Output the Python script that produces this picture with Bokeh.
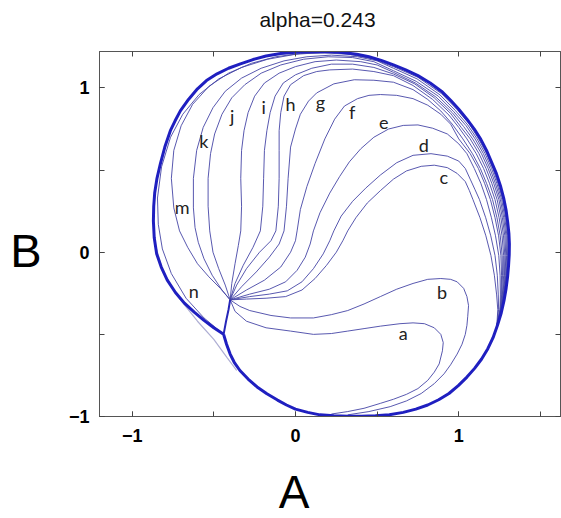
from bokeh.plotting import figure
from bokeh.models import Range1d, FixedTicker, LinearAxis, Label, CustomJSTickFormatter
from bokeh.core.properties import value
from bokeh.embed import file_html
from bokeh.resources import INLINE

# ---- text and ticks ----
title_text = "alpha=0.243"
title_x = 0.135
x_label = "A"
x_label_pos = (-0.008, -1.462)
y_label = "B"
y_label_y = 0.01
x_major = [-1, 0, 1]
x_minor = [-1, -0.5, 0, 0.5, 1, 1.5]
y_major = [-1, 0, 1]
y_minor = [-1, -0.5, 0, 0.5, 1]

# ---- limit cycle (closed orbit) and the branch from the saddle-node ----
limit_cycle = [(-0.44, -0.50), (-0.50, -0.46), (-0.56, -0.415), (-0.62, -0.365), (-0.68, -0.31),
               (-0.735, -0.245), (-0.785, -0.17), (-0.822, -0.09), (-0.85, -0.01), (-0.865, 0.09),
               (-0.87, 0.19), (-0.868, 0.28), (-0.862, 0.36), (-0.848, 0.45), (-0.827, 0.54),
               (-0.80, 0.64), (-0.766, 0.74), (-0.737, 0.80), (-0.704, 0.862), (-0.655, 0.93),
               (-0.60, 0.995), (-0.545, 1.045), (-0.48, 1.086), (-0.41, 1.12), (-0.337, 1.147),
               (-0.26, 1.173), (-0.18, 1.195), (-0.09, 1.21), (0.0, 1.218), (0.075, 1.221),
               (0.15, 1.222), (0.225, 1.22), (0.30, 1.215), (0.375, 1.205), (0.45, 1.19),
               (0.525, 1.168), (0.60, 1.14), (0.675, 1.11), (0.75, 1.075), (0.825, 1.03),
               (0.90, 0.975), (0.95, 0.925), (1.0, 0.87), (1.05, 0.81), (1.095, 0.75),
               (1.135, 0.687), (1.17, 0.62), (1.20, 0.55), (1.23, 0.48), (1.255, 0.405),
               (1.275, 0.33), (1.29, 0.255), (1.30, 0.18), (1.307, 0.115), (1.31, 0.05),
               (1.309, -0.015), (1.305, -0.08), (1.299, -0.15), (1.29, -0.22), (1.277, -0.295),
               (1.26, -0.37), (1.237, -0.445), (1.21, -0.52), (1.178, -0.587), (1.14, -0.65),
               (1.097, -0.707), (1.05, -0.76), (0.997, -0.812), (0.94, -0.86), (0.877, -0.898),
               (0.81, -0.93), (0.737, -0.955), (0.66, -0.975), (0.575, -0.989), (0.49, -0.995),
               (0.405, -0.998), (0.32, -0.998), (0.235, -0.995), (0.15, -0.99), (0.075, -0.975),
               (0.0, -0.955), (-0.055, -0.93), (-0.11, -0.90), (-0.175, -0.862), (-0.235, -0.82),
               (-0.29, -0.772), (-0.34, -0.72), (-0.375, -0.67), (-0.40, -0.62), (-0.422, -0.56),
               (-0.44, -0.50)]
saddle_branch = [(-0.40, -0.29), (-0.41, -0.35), (-0.425, -0.42), (-0.44, -0.50)]
inner_edge = [(-0.44, -0.50), (-0.56, -0.40), (-0.67, -0.28), (-0.76, -0.13), (-0.815, 0.02),
              (-0.84, 0.17), (-0.845, 0.33), (-0.82, 0.52), (-0.765, 0.70), (-0.69, 0.84),
              (-0.59, 0.96), (-0.47, 1.055), (-0.33, 1.125), (-0.17, 1.175), (0.0, 1.205),
              (0.15, 1.215)]
outer_edge = [(-0.86, 0.05), (-0.81, -0.12), (-0.72, -0.27), (-0.60, -0.42), (-0.50, -0.53),
              (-0.42, -0.64), (-0.36, -0.72)]

# ---- trajectories leaving the saddle-node ----
curve_a = [(-0.40, -0.29), (-0.37, -0.36), (-0.30, -0.42), (-0.18, -0.46), (-0.03, -0.48),
           (0.11, -0.50), (0.22, -0.495), (0.32, -0.48), (0.42, -0.465), (0.52, -0.45),
           (0.64, -0.435), (0.72, -0.43), (0.79, -0.435), (0.85, -0.46), (0.89, -0.50),
           (0.905, -0.55), (0.90, -0.60), (0.88, -0.68), (0.85, -0.73), (0.81, -0.78),
           (0.75, -0.83), (0.68, -0.865), (0.60, -0.895), (0.52, -0.92), (0.42, -0.95),
           (0.32, -0.97), (0.22, -0.985)]
curve_b = [(-0.40, -0.29), (-0.34, -0.33), (-0.28, -0.355), (-0.15, -0.385), (-0.03, -0.40),
           (0.11, -0.40), (0.22, -0.38), (0.32, -0.355), (0.42, -0.315), (0.52, -0.27),
           (0.62, -0.225), (0.72, -0.19), (0.81, -0.165), (0.89, -0.16), (0.95, -0.165),
           (0.99, -0.18), (1.03, -0.22), (1.05, -0.27), (1.06, -0.325), (1.055, -0.39),
           (1.05, -0.445), (1.04, -0.50), (1.02, -0.56), (0.99, -0.62), (0.95, -0.685),
           (0.91, -0.74), (0.85, -0.80), (0.77, -0.86), (0.68, -0.905), (0.58, -0.94),
           (0.45, -0.97), (0.32, -0.99)]
curve_c = [(-0.40, -0.29), (-0.30, -0.285), (-0.18, -0.28), (-0.06, -0.27), (0.04, -0.23),
           (0.12, -0.16), (0.19, -0.08), (0.25, 0.0), (0.29, 0.07), (0.32, 0.13), (0.37, 0.21),
           (0.44, 0.30), (0.52, 0.375), (0.60, 0.445), (0.68, 0.495), (0.77, 0.523),
           (0.85, 0.53), (0.93, 0.515), (0.99, 0.48), (1.04, 0.43), (1.065, 0.375),
           (1.087, 0.32), (1.13, 0.21), (1.166, 0.10), (1.197, -0.02), (1.218, -0.14),
           (1.232, -0.26), (1.239, -0.35), (1.233, -0.45)]
curve_d = [(-0.40, -0.29), (-0.28, -0.27), (-0.16, -0.255), (-0.05, -0.235), (0.04, -0.18),
           (0.11, -0.10), (0.17, -0.01), (0.21, 0.07), (0.235, 0.13), (0.28, 0.22), (0.35, 0.31),
           (0.43, 0.39), (0.52, 0.47), (0.62, 0.545), (0.72, 0.59), (0.83, 0.60), (0.93, 0.585),
           (1.0, 0.555), (1.04, 0.51), (1.07, 0.445), (1.10, 0.38), (1.127, 0.32), (1.165, 0.21),
           (1.196, 0.10), (1.222, -0.02), (1.236, -0.14), (1.242, -0.26), (1.244, -0.35),
           (1.233, -0.45)]
curve_e = [(-0.40, -0.29), (-0.28, -0.255), (-0.16, -0.225), (-0.06, -0.18), (0.01, -0.11),
           (0.06, -0.03), (0.09, 0.05), (0.11, 0.13), (0.15, 0.24), (0.21, 0.36), (0.27, 0.46),
           (0.33, 0.55), (0.40, 0.63), (0.48, 0.70), (0.57, 0.75), (0.66, 0.772), (0.75, 0.775),
           (0.84, 0.755), (0.93, 0.72), (1.0, 0.66), (1.05, 0.60), (1.095, 0.51), (1.135, 0.42),
           (1.17, 0.32), (1.20, 0.21), (1.225, 0.10), (1.245, -0.02), (1.253, -0.14),
           (1.255, -0.26), (1.252, -0.35), (1.233, -0.45)]
curve_f = [(-0.40, -0.29), (-0.30, -0.23), (-0.19, -0.17), (-0.09, -0.09), (-0.03, 0.0),
           (0.0, 0.07), (0.01, 0.13), (0.03, 0.26), (0.07, 0.40), (0.12, 0.54), (0.18, 0.69),
           (0.24, 0.81), (0.30, 0.89), (0.38, 0.935), (0.45, 0.955), (0.52, 0.96), (0.62, 0.955),
           (0.72, 0.935), (0.81, 0.895), (0.89, 0.84), (0.95, 0.78), (1.0, 0.69), (1.07, 0.60),
           (1.12, 0.51), (1.158, 0.42), (1.194, 0.32), (1.222, 0.21), (1.244, 0.10),
           (1.258, -0.02), (1.262, -0.14), (1.26, -0.26), (1.254, -0.35), (1.233, -0.45)]
curve_g = [(-0.40, -0.29), (-0.33, -0.21), (-0.24, -0.12), (-0.16, -0.03), (-0.10, 0.05),
           (-0.07, 0.13), (-0.055, 0.28), (-0.045, 0.45), (-0.03, 0.64), (0.0, 0.75),
           (0.03, 0.84), (0.08, 0.92), (0.13, 0.97), (0.235, 1.025), (0.36, 1.05),
           (0.48, 1.047), (0.60, 1.035), (0.72, 0.99), (0.81, 0.93), (0.89, 0.86),
           (0.96, 0.78), (1.025, 0.69), (1.084, 0.60), (1.132, 0.51), (1.17, 0.42),
           (1.207, 0.32), (1.234, 0.21), (1.254, 0.10), (1.266, -0.02), (1.268, -0.14),
           (1.263, -0.26), (1.254, -0.35), (1.233, -0.45)]
curve_h = [(-0.40, -0.29), (-0.36, -0.20), (-0.30, -0.10), (-0.22, 0.0), (-0.15, 0.07),
           (-0.12, 0.13), (-0.105, 0.28), (-0.10, 0.45), (-0.10, 0.62), (-0.10, 0.74),
           (-0.09, 0.85), (-0.07, 0.95), (-0.03, 1.02), (0.05, 1.075), (0.13, 1.10),
           (0.21, 1.11), (0.35, 1.115), (0.48, 1.10), (0.60, 1.075), (0.72, 1.015),
           (0.84, 0.93), (0.94, 0.835), (1.0, 0.76), (1.05, 0.69), (1.107, 0.60),
           (1.152, 0.51), (1.188, 0.42), (1.222, 0.32), (1.247, 0.21), (1.265, 0.10),
           (1.275, -0.02), (1.275, -0.14), (1.267, -0.26), (1.256, -0.35), (1.233, -0.45)]
curve_i = [(-0.40, -0.29), (-0.37, -0.19), (-0.32, -0.08), (-0.26, 0.03), (-0.215, 0.13),
           (-0.20, 0.28), (-0.195, 0.45), (-0.19, 0.62), (-0.175, 0.74), (-0.155, 0.85),
           (-0.125, 0.95), (-0.075, 1.03), (0.0, 1.08), (0.10, 1.12), (0.22, 1.145),
           (0.35, 1.145), (0.48, 1.125), (0.60, 1.085), (0.73, 1.025), (0.85, 0.94),
           (0.95, 0.845), (1.015, 0.76), (1.07, 0.69), (1.124, 0.60), (1.167, 0.51),
           (1.202, 0.42), (1.235, 0.32), (1.258, 0.21), (1.274, 0.10), (1.282, -0.02),
           (1.28, -0.14), (1.27, -0.26), (1.258, -0.35), (1.233, -0.45)]
curve_j = [(-0.40, -0.29), (-0.39, -0.19), (-0.37, -0.07), (-0.35, 0.04), (-0.335, 0.13),
           (-0.33, 0.28), (-0.335, 0.45), (-0.33, 0.62), (-0.315, 0.74), (-0.29, 0.85),
           (-0.25, 0.95), (-0.19, 1.03), (-0.10, 1.09), (0.0, 1.13), (0.12, 1.16), (0.25, 1.17),
           (0.40, 1.16), (0.50, 1.14), (0.60, 1.095), (0.735, 1.03), (0.86, 0.945),
           (0.96, 0.85), (1.03, 0.765), (1.085, 0.69), (1.139, 0.60), (1.18, 0.51),
           (1.214, 0.42), (1.246, 0.32), (1.267, 0.21), (1.282, 0.10), (1.288, -0.02),
           (1.284, -0.14), (1.273, -0.26), (1.259, -0.35), (1.233, -0.45)]
curve_k = [(-0.40, -0.29), (-0.43, -0.20), (-0.47, -0.10), (-0.505, 0.0), (-0.525, 0.13),
           (-0.535, 0.28), (-0.535, 0.45), (-0.52, 0.60), (-0.495, 0.72), (-0.45, 0.84),
           (-0.39, 0.94), (-0.31, 1.02), (-0.21, 1.09), (-0.09, 1.14), (0.05, 1.175),
           (0.20, 1.19), (0.35, 1.185), (0.48, 1.16), (0.60, 1.105), (0.74, 1.04),
           (0.875, 0.95), (0.97, 0.855), (1.045, 0.77), (1.10, 0.69), (1.151, 0.60),
           (1.191, 0.51), (1.224, 0.42), (1.255, 0.32), (1.275, 0.21), (1.289, 0.10),
           (1.293, -0.02), (1.288, -0.14), (1.275, -0.26), (1.26, -0.35), (1.233, -0.45)]
curve_m = [(-0.40, -0.29), (-0.45, -0.23), (-0.51, -0.14), (-0.56, -0.04), (-0.595, 0.06),
           (-0.615, 0.15), (-0.625, 0.27), (-0.625, 0.45), (-0.605, 0.62), (-0.565, 0.76),
           (-0.505, 0.88), (-0.43, 0.98), (-0.33, 1.06), (-0.21, 1.12), (-0.07, 1.165),
           (0.07, 1.19), (0.22, 1.20), (0.38, 1.19), (0.50, 1.165), (0.60, 1.12),
           (0.745, 1.055), (0.885, 0.958), (0.98, 0.862), (1.055, 0.775), (1.112, 0.69),
           (1.162, 0.60), (1.201, 0.51), (1.233, 0.42), (1.263, 0.32), (1.282, 0.21),
           (1.295, 0.10), (1.298, -0.02), (1.291, -0.14), (1.277, -0.26), (1.261, -0.35),
           (1.233, -0.45)]
curve_n = [(-0.40, -0.29), (-0.46, -0.22), (-0.53, -0.15), (-0.60, -0.07), (-0.66, 0.03),
           (-0.71, 0.13), (-0.745, 0.27), (-0.76, 0.45), (-0.745, 0.62), (-0.70, 0.77),
           (-0.63, 0.90), (-0.53, 1.01), (-0.41, 1.09), (-0.27, 1.15), (-0.12, 1.19),
           (0.03, 1.21), (0.18, 1.213), (0.33, 1.205), (0.47, 1.178), (0.60, 1.13),
           (0.75, 1.065), (0.895, 0.965), (0.99, 0.868), (1.065, 0.78), (1.122, 0.69),
           (1.171, 0.60), (1.209, 0.51), (1.24, 0.42), (1.27, 0.32), (1.288, 0.21),
           (1.30, 0.10), (1.302, -0.02), (1.294, -0.14), (1.279, -0.26), (1.262, -0.35),
           (1.233, -0.45)]

# ---- letters naming the trajectories ----
curve_names = ["a", "b", "c", "d", "e", "f", "g", "h", "i", "j", "k", "m", "n"]
name_x = [0.66, 0.898, 0.909, 0.786, 0.541, 0.347, 0.153, -0.031, -0.194, -0.387, -0.561, -0.694, -0.623]
name_y = [-0.493, -0.244, 0.456, 0.650, 0.791, 0.852, 0.913, 0.903, 0.882, 0.832, 0.680, 0.274, -0.234]

trajectories = [curve_a, curve_b, curve_c, curve_d, curve_e, curve_f, curve_g,
                curve_h, curve_i, curve_j, curve_k, curve_m, curve_n, inner_edge]


def xs_of(pts):
    return [q[0] for q in pts]


def ys_of(pts):
    return [q[1] for q in pts]


p = figure(width=561, height=518,
           x_range=Range1d(-1.2, 1.623), y_range=Range1d(-1.0, 1.222),
           output_backend="svg", toolbar_location=None,
           min_border_left=99, min_border_right=1, min_border_top=51, min_border_bottom=102)
p.background_fill_color = "white"
p.border_fill_color = "white"
p.grid.visible = False
p.outline_line_color = "#555555"
p.outline_line_width = 1

tick_font = "Liberation Sans"


def frame_axis(ax):
    ax.axis_line_color = "#555555"
    ax.axis_line_width = 1
    ax.major_tick_in = 5
    ax.major_tick_out = 0
    ax.minor_tick_in = 5
    ax.minor_tick_out = 0
    ax.major_tick_line_color = "#444444"
    ax.minor_tick_line_color = "#444444"


def text_only_axis(ax, size, standoff):
    ax.axis_line_color = None
    ax.major_tick_line_color = None
    ax.minor_tick_line_color = None
    ax.major_tick_in = 0
    ax.major_tick_out = 0
    ax.major_label_standoff = standoff
    ax.major_label_text_font = tick_font
    ax.major_label_text_font_style = "normal"
    ax.major_label_text_font_size = size
    ax.major_label_text_color = "black"


# numbered axes (left, bottom)
p.xaxis.ticker = FixedTicker(ticks=x_major, minor_ticks=x_minor)
p.yaxis.ticker = FixedTicker(ticks=y_major, minor_ticks=y_minor)
for ax in (p.xaxis[0], p.yaxis[0]):
    frame_axis(ax)
    ax.major_label_text_font = tick_font
    ax.major_label_text_font_style = "bold"
    ax.major_label_text_font_size = "18px"
    ax.major_label_text_color = "black"
p.xaxis.major_label_standoff = 12
p.yaxis.major_label_standoff = 10

# tick marks on the top and right edges of the box
top_axis = LinearAxis(ticker=FixedTicker(ticks=[], minor_ticks=x_minor))
right_axis = LinearAxis(ticker=FixedTicker(ticks=[], minor_ticks=y_minor))
for ax in (top_axis, right_axis):
    frame_axis(ax)
    ax.major_label_standoff = 0
p.add_layout(top_axis, "above")
p.add_layout(right_axis, "right")

# title above the box, axis name "B" left of the numbers
title_axis = LinearAxis(ticker=FixedTicker(ticks=[title_x]),
                        formatter=CustomJSTickFormatter(args=dict(label=title_text), code="return label;"))
text_only_axis(title_axis, "21px", 21)
title_axis.major_label_text_color = "#111111"
p.add_layout(title_axis, "above")

name_axis_y = LinearAxis(ticker=FixedTicker(ticks=[y_label_y]),
                         formatter=CustomJSTickFormatter(args=dict(label=y_label), code="return label;"))
text_only_axis(name_axis_y, "47px", 24)
p.add_layout(name_axis_y, "left")

# axis name "A" under the numbers
p.add_layout(Label(x=x_label_pos[0], y=x_label_pos[1], text=x_label, text_font=tick_font,
                   text_font_size="46px", text_align="center", text_baseline="middle",
                   text_color="black"), "below")

# trajectories
p.multi_line([xs_of(c) for c in trajectories], [ys_of(c) for c in trajectories],
             line_color="#4646a6", line_width=1.0, line_alpha=0.9)
p.line(xs_of(outer_edge), ys_of(outer_edge), line_color="#9a9ac8", line_width=1.2, line_alpha=0.8)
p.line(xs_of(saddle_branch), ys_of(saddle_branch), line_color="#2626b8", line_width=2)
p.line(xs_of(limit_cycle), ys_of(limit_cycle), line_color="#1f1fc0", line_width=3,
       line_join="round")

p.text(x=name_x, y=name_y, text=curve_names, text_font=value("Lato"),
       text_font_size="18px", text_align="center", text_baseline="middle",
       text_color="#222222")

open("out.html", "w").write(file_html(p, INLINE))
